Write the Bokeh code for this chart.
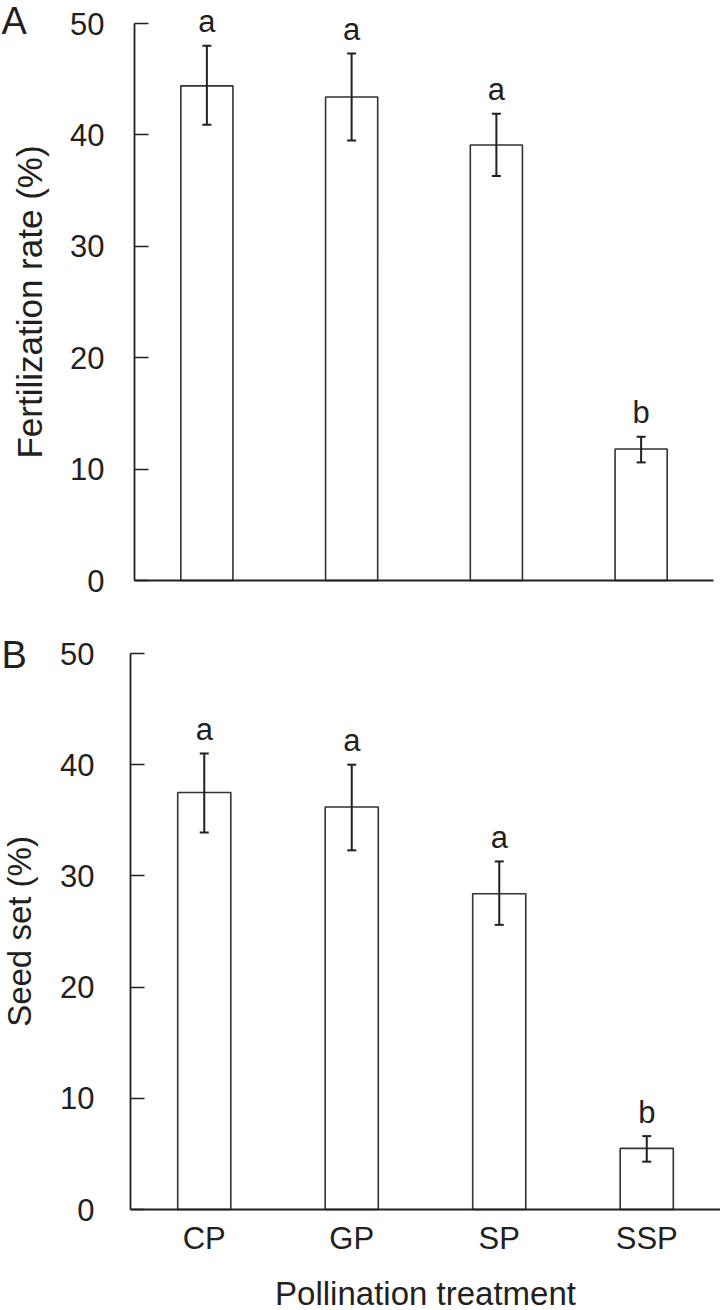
from bokeh.plotting import figure
from bokeh.models import Range1d, ColumnDataSource, Whisker, TeeHead, FixedTicker
from bokeh.layouts import column
from bokeh.embed import file_html
from bokeh.resources import INLINE
from bokeh.core.properties import value

# ---------------- data ----------------
treatments = ["CP", "GP", "SP", "SSP"]

fert_mean = [44.4, 43.4, 39.1, 11.8]
fert_lower = [40.9, 39.5, 36.3, 10.6]
fert_upper = [48.0, 47.3, 41.9, 12.9]
fert_letters = ["a", "a", "a", "b"]

seed_mean = [37.5, 36.2, 28.4, 5.5]
seed_lower = [33.9, 32.3, 25.6, 4.3]
seed_upper = [41.0, 40.0, 31.3, 6.6]
seed_letters = ["a", "a", "a", "b"]

y_ticks = [0, 10, 20, 30, 40, 50]

FONT = "Liberation Sans"
INK = "#231f20"
W = 720


def make_panel(means, lows, highs, letters, ylabel, ylabel_size, panel,
               height, xstart, xend, ystart, yend, show_x,
               tick_standoff, label_standoff, panel_x, panel_y, letter_pad):
    xpos = [i + 0.5 for i in range(len(treatments))]
    letter_y = [h + letter_pad for h in highs]
    src = ColumnDataSource(dict(x=xpos, top=means, lower=lows, upper=highs,
                                letter=letters, ly=letter_y))
    p = figure(x_range=Range1d(xstart, xend), y_range=Range1d(ystart, yend),
               width=W, height=height, output_backend="svg", toolbar_location=None,
               min_border_left=0, min_border_right=0, min_border_top=0,
               min_border_bottom=0)
    p.outline_line_color = None
    p.xgrid.grid_line_color = None
    p.ygrid.grid_line_color = None
    p.background_fill_color = "white"
    p.border_fill_color = "white"

    p.vbar(x="x", top="top", bottom=0, width=0.36, source=src,
           fill_color="white", line_color="#333333", line_width=1.6)

    w = Whisker(base="x", upper="upper", lower="lower", source=src, dimension="height",
                line_color=INK, line_width=2, level="overlay",
                upper_head=TeeHead(size=9, line_color=INK, line_width=2),
                lower_head=TeeHead(size=9, line_color=INK, line_width=2))
    p.add_layout(w)

    p.text(x="x", y="ly", text="letter", source=src,
           text_align="center", text_baseline="alphabetic",
           text_font=value(FONT), text_font_size="31px", text_color=INK)

    p.text(x=[panel_x], y=[panel_y], text=[panel], text_align="left",
           text_baseline="alphabetic", text_font=value(FONT),
           text_font_size="38px", text_color=INK)

    # y axis, drawn at x = 0 inside the frame
    ya = p.yaxis[0]
    ya.fixed_location = 0
    ya.ticker = FixedTicker(ticks=y_ticks)
    ya.bounds = (0, 50)
    ya.minor_tick_line_color = None
    ya.major_tick_in = 14
    ya.major_tick_out = 0
    ya.major_tick_line_width = 1.6
    ya.major_tick_line_color = INK
    ya.axis_line_width = 1.8
    ya.axis_line_color = INK
    ya.major_label_text_font = FONT
    ya.major_label_text_font_size = "31px"
    ya.major_label_text_color = INK
    ya.major_label_standoff = tick_standoff
    ya.axis_label = ylabel
    ya.axis_label_text_font = FONT
    ya.axis_label_text_font_size = ylabel_size
    ya.axis_label_text_font_style = "normal"
    ya.axis_label_text_color = INK
    ya.axis_label_standoff = label_standoff

    # x axis, drawn at y = 0 inside the frame
    xa = p.xaxis[0]
    xa.fixed_location = 0
    xa.bounds = (0, len(treatments))
    xa.major_tick_in = 0
    xa.major_tick_out = 0
    xa.minor_tick_line_color = None
    xa.axis_line_width = 2
    xa.axis_line_color = INK
    if show_x:
        xa.ticker = FixedTicker(ticks=xpos)
        xa.major_label_overrides = {x: t for x, t in zip(xpos, treatments)}
        xa.major_label_text_font = FONT
        xa.major_label_text_font_size = "31px"
        xa.major_label_text_color = INK
        xa.major_label_standoff = 11
        xa.axis_label = "Pollination treatment"
        xa.axis_label_text_font = FONT
        xa.axis_label_text_font_size = "33px"
        xa.axis_label_text_font_style = "normal"
        xa.axis_label_text_color = INK
        xa.axis_label_standoff = 16
    else:
        xa.ticker = FixedTicker(ticks=[])
        xa.major_label_standoff = 0
    return p


# Panel A: page rows 0..605, value 0 at row 580, 11.14 px per unit;
# y axis at page x=134, x-axis end at 713 (144.75 px per category)
pa = make_panel(fert_mean, fert_lower, fert_upper, fert_letters,
                "Fertilization rate (%)", "35px", "A",
                605, -134 / 144.75, 4 + 7 / 144.75, (580 - 605) / 11.14, 580 / 11.14, False,
                30, 18, -0.919, 50.18, 2.15)
# Panel B: page rows 605..1310, value 0 at row 1209, 11.12 px per unit;
# y axis at page x=130, axis end at 720 (147.5 px per category)
pb = make_panel(seed_mean, seed_lower, seed_upper, seed_letters,
                "Seed set (%)", "33px", "B",
                705, -130 / 147.5, 4, (1209 - 1310) / 11.12, (1209 - 605) / 11.12, True,
                36, 19, -0.874, 49.86, 2.15)

layout = column(pa, pb, spacing=0)
open("out.html", "w").write(file_html(layout, INLINE))
